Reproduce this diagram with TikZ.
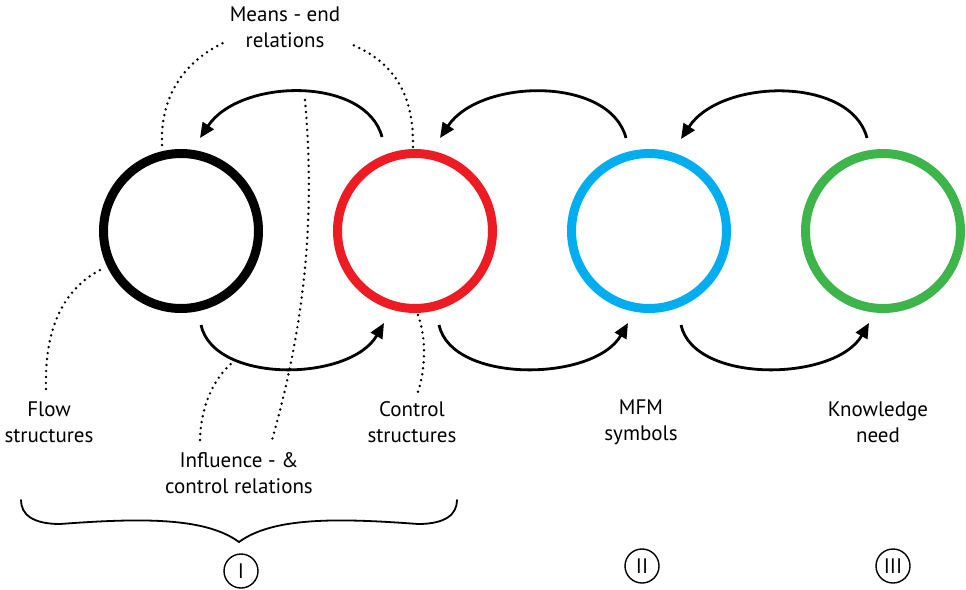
\documentclass[tikz,border=0pt]{standalone}
\usepackage{fontspec}
\setmainfont{PT Sans}
\usetikzlibrary{arrows.meta}
\definecolor{ringred}{HTML}{ED1C24}
\definecolor{ringblue}{HTML}{00AEEF}
\definecolor{ringgreen}{HTML}{3DB54A}
\begin{document}
\begin{tikzpicture}[x=1pt,y=-1pt,
  ring/.style={circle,draw,line width=9pt,minimum size=155pt,inner sep=0pt},
  flowarrow/.style={line width=2.8pt,-{Triangle[length=15pt,width=13pt]}},
  leader/.style={line width=2.7pt,line cap=round,dash pattern=on 0pt off 6pt},
  caption/.style={align=center,font=\fontsize{21}{26}\selectfont,inner sep=0pt},
  numeral/.style={circle,draw,line width=1.4pt,minimum size=34pt,inner sep=0pt,font=\fontsize{21}{26}\selectfont}]
\useasboundingbox (0,0) rectangle (966,589);

% the four rings
\node[ring,draw=black]      (flow) at (181,231) {};
\node[ring,draw=ringred]    (ctrl) at (415,231) {};
\node[ring,draw=ringblue]   (mfm)  at (649,231) {};
\node[ring,draw=ringgreen]  (know) at (883,231) {};

% arrow end points around the rings
\coordinate (ctrlTop)  at (382,137);
\coordinate (flowTopIn) at (200,138);
\coordinate (mfmTop)   at (626,138);
\coordinate (ctrlTopIn) at (440,138);
\coordinate (knowTop)  at (867,138);
\coordinate (mfmTopIn) at (681,139);

\coordinate (flowBot)  at (201,325);
\coordinate (ctrlBotIn) at (384,323);
\coordinate (ctrlBot)  at (439,325);
\coordinate (mfmBotIn) at (628,323);
\coordinate (mfmBot)   at (681,325);
\coordinate (knowBotIn) at (869,323);

% upper arrows (right to left)
\draw[flowarrow] (ctrlTop) .. controls (366,76) and (240,78) .. (flowTopIn);
\draw[flowarrow] (mfmTop)  .. controls (610,76) and (480,78) .. (ctrlTopIn);
\draw[flowarrow] (knowTop) .. controls (851,76) and (721,78) .. (mfmTopIn);

% lower arrows (left to right)
\draw[flowarrow] (flowBot) .. controls (214,384) and (350,382) .. (ctrlBotIn);
\draw[flowarrow] (ctrlBot) .. controls (452,384) and (594,382) .. (mfmBotIn);
\draw[flowarrow] (mfmBot)  .. controls (694,384) and (835,382) .. (knowBotIn);

% captions
\node[caption] (means)     at (285,27)  {Means - end\\relations};
\node[caption] (flowlbl)   at (49,422)  {Flow\\structures};
\node[caption] (ctrllbl)   at (412,422) {Control\\structures};
\node[caption] (mfmlbl)    at (641,422) {MFM\\symbols};
\node[caption] (knowlbl)   at (878,422) {Knowledge\\need};
\node[caption] (influence) at (239,473) {Influence - \&\\control relations};

% dotted leader lines
\coordinate (meansL) at (223,43);
\coordinate (meansR) at (353,45);
\coordinate (ringFlowTop) at (162,145);
\coordinate (ringCtrlTop) at (413,147);
\draw[leader] (ringFlowTop) .. controls (160,92) and (188,60) .. (meansL);
\draw[leader] (ringCtrlTop) .. controls (414,92) and (392,62) .. (meansR);

\coordinate (flowLead) at (46,389);
\coordinate (ringFlowSide) at (104,268);
\draw[leader] (flowLead) .. controls (44,322) and (68,285) .. (ringFlowSide);

\coordinate (ringCtrlBot) at (418,315);
\coordinate (ctrlLead) at (418,392);
\draw[leader] (ringCtrlBot) .. controls (427,340) and (425,370) .. (ctrlLead);

\coordinate (inflL) at (200,440);
\coordinate (inflLtop) at (233,362);
\draw[leader] (inflL) .. controls (201,405) and (214,378) .. (inflLtop);

\coordinate (inflR) at (272,440);
\coordinate (inflRtop) at (305,100);
\draw[leader] (inflRtop) .. controls (315,215) and (306,320) .. (inflR);

% brace grouping the first two rings
\coordinate (braceL) at (21,500);
\coordinate (braceR) at (457,500);
\coordinate (braceTip) at (239,542);
\draw[line width=1.8pt,line cap=round]
  (braceL) .. controls (21,514) and (32,524) .. (60,524)
  .. controls (140,518) and (205,517) .. (braceTip)
  .. controls (273,517) and (338,518) .. (418,524)
  .. controls (446,524) and (457,514) .. (braceR);

% stage numerals
\node[numeral] (stageI)   at (241,571) {I};
\node[numeral] (stageII)  at (642,566) {II};
\node[numeral] (stageIII) at (893,566) {III};
\end{tikzpicture}
\end{document}
